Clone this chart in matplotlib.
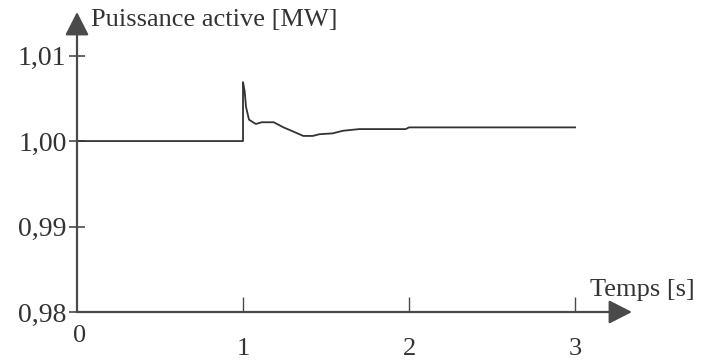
import numpy as np
import matplotlib.pyplot as plt

plt.rcParams['font.family'] = ['Liberation Serif', 'DejaVu Serif']

# active power response
temps = [0.0, 1.0, 1.0, 1.01, 1.018, 1.036, 1.077, 1.113, 1.185, 1.244, 1.304,
         1.363, 1.42, 1.46, 1.54, 1.60, 1.70, 1.98, 2.0, 3.0]
puissance = [1.0, 1.0, 1.0069, 1.0058, 1.0040, 1.0025, 1.0020, 1.0022, 1.0022,
             1.0016, 1.0011, 1.0006, 1.0006, 1.0008, 1.0009, 1.0012, 1.0014,
             1.0014, 1.0016, 1.0016]

yticks = [0.98, 0.99, 1.00, 1.01]
ylabels = ['0,98', '0,99', '1,00', '1,01']
xticks = [1, 2, 3]
xlabels = ['1', '2', '3']

ink = '#333333'
axcol = '#4a4a4a'

fig = plt.figure(figsize=(7.1, 3.64), dpi=100)
ax = fig.add_axes([77 / 710, 52 / 364, 555 / 710, 300 / 364])

ax.plot(temps, puissance, color=ink, lw=1.3)

ax.set_xlim(0, 3.343)
ax.set_ylim(0.98, 1.0151)

for s in ax.spines.values():
    s.set_visible(False)

# axes with arrow heads
arrow = dict(arrowstyle='-|>,head_length=0.55,head_width=0.28', color=axcol,
             lw=1.6, mutation_scale=26, shrinkA=0, shrinkB=0)
ax.annotate('', xy=(1, 0), xytext=(0, 0), xycoords='axes fraction',
            arrowprops=arrow, annotation_clip=False)
ax.annotate('', xy=(0, 1), xytext=(0, 0), xycoords='axes fraction',
            arrowprops=arrow, annotation_clip=False)

ax.set_yticks(yticks)
ax.set_yticklabels(ylabels)
ax.tick_params(axis='y', direction='inout', length=11, width=1.2,
               color=axcol, labelsize=20, labelcolor=ink, pad=2)

ax.set_xticks(xticks)
ax.set_xticklabels(xlabels)
ax.tick_params(axis='x', direction='in', length=11, width=1.0,
               color=axcol, labelsize=19, labelcolor=ink, pad=19)

ax.annotate('0', xy=(0, 0), xycoords='axes fraction', xytext=(2, -17),
            textcoords='offset points', ha='center', va='center',
            fontsize=19, color=ink)

ax.text(91 / 710, 1 - 20 / 364, 'Puissance active [MW]', transform=fig.transFigure,
        ha='left', va='center', fontsize=19, color=ink)
ax.text(590 / 710, 1 - 290 / 364, 'Temps [s]', transform=fig.transFigure,
        ha='left', va='center', fontsize=19, color=ink)

plt.savefig('out.png', dpi=100)
